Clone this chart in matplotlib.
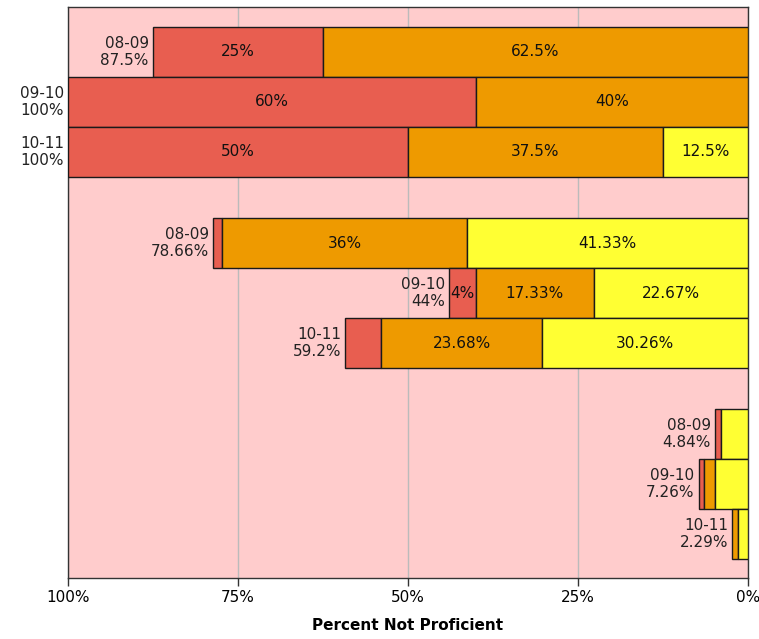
import matplotlib
matplotlib.use("Agg")
import matplotlib.pyplot as plt

# ---- data ----
years = ["08-09", "09-10", "10-11"]
totals = [
    ["87.5%", "100%", "100%"],
    ["78.66%", "44%", "59.2%"],
    ["4.84%", "7.26%", "2.29%"],
]
red_vals = [[25, 60, 50], [1.33, 4, 5.26], [0.81, 0.81, 0]]
orange_vals = [[62.5, 40, 37.5], [36, 17.33, 23.68], [0, 1.61, 0.76]]
yellow_vals = [[0, 0, 12.5], [41.33, 22.67, 30.26], [4.03, 4.84, 1.53]]
# which segments carry a value label (red, orange, yellow)
show_label = [
    [(1, 1, 0), (1, 1, 0), (1, 1, 1)],
    [(0, 1, 1), (1, 1, 1), (0, 1, 1)],
    [(0, 0, 0), (0, 0, 0), (0, 0, 0)],
]
xticks = [100, 75, 50, 25, 0]
xticklabels = ["100%", "75%", "50%", "25%", "0%"]
xlabel = "Percent Not Proficient"

colors = ["#E85E50", "#EE9A00", "#FFFF33"]
bg = "#FFCCCC"

fig = plt.figure(figsize=(7.59, 6.39), dpi=100)
ax = fig.add_axes([68 / 759, 1 - 578 / 639, 680 / 759, 571 / 639])
ax.set_facecolor(bg)

group_step = 3.82
top_pad = 0.4
fs = 11

for g in range(3):
    for i in range(3):
        yc = top_pad + group_step * g + i + 0.5
        segs = [red_vals[g][i], orange_vals[g][i], yellow_vals[g][i]]
        total = sum(segs)
        left = total
        for k, v in enumerate(segs):
            if v <= 0:
                continue
            # reversed axis: bar spans from left (high) to left - v
            ax.barh(yc, v, left=left - v, height=1.0, color=colors[k],
                    edgecolor="#1a1a1a", linewidth=1.0, zorder=3)
            if show_label[g][i][k]:
                ax.text(left - v / 2, yc, f"{v:g}%", ha="center", va="center",
                        fontsize=fs, color="#111111", zorder=4)
            left -= v
        ax.annotate(f"{years[i]}\n{totals[g][i]}", xy=(total, yc),
                    xytext=(-3, 0), textcoords="offset points",
                    ha="right", va="center", fontsize=fs, color="#222222",
                    annotation_clip=False, linespacing=1.1, zorder=4)

ax.set_xlim(100, 0)
ax.set_ylim(11.42, 0)
ax.set_xticks(xticks)
ax.set_xticklabels(xticklabels, fontsize=fs)
ax.set_yticks([])
ax.tick_params(axis="x", direction="out", length=6, width=1, color="#333333", pad=3)
ax.grid(axis="x", color="#BBBBBB", linewidth=1, zorder=1)
ax.set_axisbelow(True)
for s in ax.spines.values():
    s.set_color("#333333")
    s.set_linewidth(1)
ax.set_xlabel(xlabel, fontsize=11, fontweight="bold", labelpad=9)

fig.savefig("out.png", dpi=100, facecolor="white")
